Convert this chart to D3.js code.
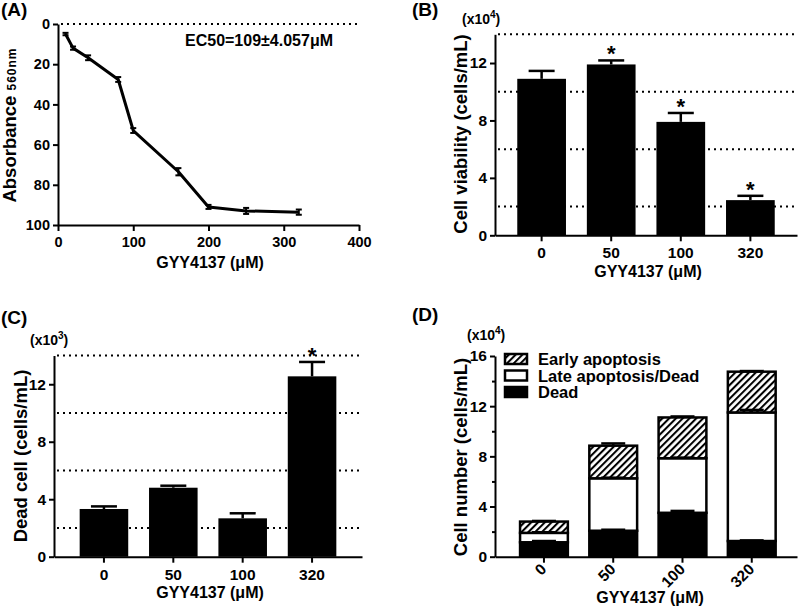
<!DOCTYPE html>
<html><head><meta charset="utf-8">
<script src="https://cdn.jsdelivr.net/npm/d3@7"></script>
<style>
body{margin:0;background:#fff}
svg text{font-family:"Liberation Sans",Arial,sans-serif;font-weight:bold;fill:#000}
</style>
</head><body>
<svg id="c" width="800" height="613"></svg>
<script>
// ---- Data ----
const doseA = [10, 20, 40, 80, 100, 160, 200, 250, 320];
const absA = [5, 12, 16.8, 27.6, 53, 73.5, 91, 93, 93.6];
const absErrA = [0.6, 0.8, 1.2, 1.2, 1.2, 1.8, 1.0, 1.5, 1.3];
const xTicksA = [0, 100, 200, 300, 400];
const yTicksA = [0, 20, 40, 60, 80, 100];

const categories = ["0", "50", "100", "320"];

const viability = [10.9, 11.9, 7.9, 2.45];
const viabilityErr = [0.55, 0.28, 0.62, 0.3];
const viabilitySig = [false, true, true, true];

const deadCell = [3.32, 4.8, 2.67, 12.55];
const deadCellErr = [0.18, 0.14, 0.35, 1.0];
const deadCellSig = [false, false, false, true];

const deadD = [1.15, 2.07, 3.5, 1.25];
const lateD = [0.75, 4.18, 4.35, 10.25];
const earlyD = [0.9, 2.6, 3.25, 3.25];
const deadDErr = [0.1, 0.08, 0.15, 0.05];
const lateDErr = [0.05, 0.05, 0.05, 0.2];
const earlyDErr = [0.05, 0.18, 0.08, 0.05];
const legendD = ["Early apoptosis", "Late apoptosis/Dead", "Dead"];

const yTicksBC = [0, 4, 8, 12];
const gridBC = [2, 6, 10, 14];
const yTicksD = [0, 4, 8, 12, 16];
const minorD = [2, 6, 10, 14];

// ---- Helpers ----
const svg = d3.select("#c");
const defs = svg.append("defs");
defs.append("pattern").attr("id", "hatch").attr("patternUnits", "userSpaceOnUse")
  .attr("width", 4.8).attr("height", 4.8).attr("patternTransform", "rotate(45)")
  .call(p => {
    p.append("rect").attr("width", 4.8).attr("height", 4.8).attr("fill", "#fff");
    p.append("line").attr("x1", 1).attr("y1", 0).attr("x2", 1).attr("y2", 4.8)
      .attr("stroke", "#000").attr("stroke-width", 2.1);
  });

function styleAxis(g, fs) {
  g.attr("font-size", fs).attr("font-family", null);
  g.selectAll("path,line").attr("stroke", "#000").attr("stroke-width", 2);
  return g;
}
function label(x, y, t, fs, anchor) {
  return svg.append("text").attr("x", x).attr("y", y).attr("font-size", fs)
    .attr("text-anchor", anchor || "start").text(t);
}
function ylabel(x, y, t, fs) {
  return svg.append("text").attr("transform", `translate(${x},${y}) rotate(-90)`)
    .attr("font-size", fs).attr("text-anchor", "middle").text(t);
}
function mult(x, y, exp) {
  const t = svg.append("text").attr("x", x).attr("y", y).attr("font-size", 14);
  t.append("tspan").text("(x10");
  t.append("tspan").attr("font-size", 10).attr("dy", -6).text(exp);
  t.append("tspan").attr("dy", 6).text(")");
}
function dotted(x1, x2, y) {
  svg.append("line").attr("x1", x1).attr("x2", x2).attr("y1", y).attr("y2", y)
    .attr("stroke", "#000").attr("stroke-width", 2).attr("stroke-dasharray", "2,4");
}
function errBar(cx, y0, y1, capW) {
  const g = svg.append("g").attr("stroke", "#000");
  g.append("line").attr("x1", cx).attr("x2", cx).attr("y1", y0).attr("y2", y1).attr("stroke-width", 2.5);
  g.append("line").attr("x1", cx - capW / 2).attr("x2", cx + capW / 2).attr("y1", y1).attr("y2", y1).attr("stroke-width", 2.5);
}

// ---- Panel A ----
(function () {
  const x = d3.scaleLinear().domain([0, 400]).range([58, 359]);
  const y = d3.scaleLinear().domain([0, 100]).range([24, 225]);
  dotted(61, 359, y(0));
  styleAxis(svg.append("g").attr("transform", `translate(0,${y(100)})`)
    .call(d3.axisBottom(x).tickValues(xTicksA).tickSize(6).tickPadding(6).tickSizeOuter(0)), 14.5);
  styleAxis(svg.append("g").attr("transform", `translate(${x(0)},0)`)
    .call(d3.axisLeft(y).tickValues(yTicksA).tickSize(5).tickPadding(3).tickSizeOuter(0)), 14.5);
  const pts = doseA.map((d, i) => [x(d), y(absA[i])]);
  svg.append("path").attr("d", d3.line()(pts)).attr("fill", "none")
    .attr("stroke", "#000").attr("stroke-width", 3).attr("stroke-linejoin", "round");
  doseA.forEach((d, i) => {
    const g = svg.append("g").attr("stroke", "#000").attr("stroke-width", 2);
    const a = y(absA[i] - absErrA[i]), b = y(absA[i] + absErrA[i]);
    g.append("line").attr("x1", x(d)).attr("x2", x(d)).attr("y1", a).attr("y2", b);
    g.append("line").attr("x1", x(d) - 3).attr("x2", x(d) + 3).attr("y1", a).attr("y2", a);
    g.append("line").attr("x1", x(d) - 3).attr("x2", x(d) + 3).attr("y1", b).attr("y2", b);
  });
  label(185, 46, "EC50=109±4.057μM", 16);
  const t = svg.append("text").attr("transform", `translate(16,125) rotate(-90)`)
    .attr("text-anchor", "middle").attr("font-size", 18.5);
  t.append("tspan").text("Absorbance ");
  t.append("tspan").attr("font-size", 12).attr("letter-spacing", 1).text("560nm");
  label(210, 268, "GYY4137 (μM)", 16, "middle");
  label(1, 16, "(A)", 19);
})();

// ---- Bar panels B and C ----
function barPanel(o) {
  const x = d3.scaleBand().domain(categories).range([o.x0, o.x1]).paddingInner(0.3).paddingOuter(o.po);
  const y = d3.scaleLinear().domain([0, 14]).range([o.yb, o.yt]);
  gridBC.forEach(v => dotted(o.x0 + 3, o.x1, y(v)));
  categories.forEach((c, i) => {
    const cx = x(c) + x.bandwidth() / 2;
    errBar(cx, y(o.vals[i]), y(o.vals[i] + o.errs[i]), 26);
  });
  svg.append("g").selectAll("rect").data(categories).join("rect")
    .attr("x", c => x(c)).attr("width", x.bandwidth())
    .attr("y", (c, i) => y(o.vals[i])).attr("height", (c, i) => y(0) - y(o.vals[i]))
    .attr("fill", "#000");
  categories.forEach((c, i) => {
    if (o.sig[i]) label(x(c) + x.bandwidth() / 2, y(o.vals[i] + o.errs[i]) + 1, "*", 22, "middle");
  });
  styleAxis(svg.append("g").attr("transform", `translate(0,${o.yb})`)
    .call(d3.axisBottom(x).tickSize(6).tickPadding(6).tickSizeOuter(0)), 15.5);
  styleAxis(svg.append("g").attr("transform", `translate(${o.x0},0)`)
    .call(d3.axisLeft(y).tickValues(yTicksBC).tickSize(5).tickPadding(3).tickSizeOuter(0)), 15.5);
}
barPanel({x0: 495, x1: 797, yb: 235.3, yt: 34.3, po: 0.32, vals: viability, errs: viabilityErr, sig: viabilitySig});
ylabel(467, 134, "Cell viability (cells/mL)", 18.5);
label(648, 277, "GYY4137 (μM)", 16, "middle");
label(412, 16, "(B)", 19);
mult(462, 24, "4");

barPanel({x0: 54, x1: 362, yb: 556.7, yt: 355.5, po: 0.37, vals: deadCell, errs: deadCellErr, sig: deadCellSig});
ylabel(27, 456, "Dead cell (cells/mL)", 18.5);
label(210, 598, "GYY4137 (μM)", 16, "middle");
label(1, 324, "(C)", 19);
mult(30, 345, "3");

// ---- Panel D ----
(function () {
  const x = d3.scaleBand().domain(categories).range([495, 797]).paddingInner(0.31).paddingOuter(0.335).align(0.54);
  const y = d3.scaleLinear().domain([0, 16]).range([556.7, 356]);
  const bw = x.bandwidth();
  const segs = [
    {vals: deadD, errs: deadDErr, fill: "#000"},
    {vals: lateD, errs: lateDErr, fill: "#fff"},
    {vals: earlyD, errs: earlyDErr, fill: "url(#hatch)"}
  ];
  categories.forEach((c, i) => {
    let base = 0;
    segs.forEach(s => {
      const top = base + s.vals[i];
      svg.append("rect").attr("x", x(c)).attr("width", bw)
        .attr("y", y(top)).attr("height", y(base) - y(top))
        .attr("fill", s.fill).attr("stroke", "#000").attr("stroke-width", 2.5);
      base = top;
    });
    base = 0;
    segs.forEach(s => {
      const top = base + s.vals[i];
      errBar(x(c) + bw / 2, y(top), y(top + s.errs[i]), 24);
      base = top;
    });
  });
  const ax = styleAxis(svg.append("g").attr("transform", `translate(0,${y(0)})`)
    .call(d3.axisBottom(x).tickSize(6).tickPadding(7).tickSizeOuter(0)), 15.5);
  ax.selectAll("text").attr("text-anchor", "end").attr("dy", "0.35em")
    .attr("transform", "translate(-6,4) rotate(-45)").attr("y", 8).attr("x", 0);
  styleAxis(svg.append("g").attr("transform", `translate(495,0)`)
    .call(d3.axisLeft(y).tickValues(yTicksD).tickSize(5).tickPadding(3).tickSizeOuter(0)), 15.5);
  styleAxis(svg.append("g").attr("transform", `translate(495,0)`)
    .call(d3.axisLeft(y).tickValues(minorD).tickSize(3).tickFormat("").tickSizeOuter(0)), 15.5)
    .select(".domain").remove();
  const fills = ["url(#hatch)", "#fff", "#000"];
  legendD.forEach((t, i) => {
    const cy = 359 + i * 16.5;
    svg.append("rect").attr("x", 505).attr("y", cy - 5).attr("width", 22).attr("height", 10)
      .attr("fill", fills[i]).attr("stroke", "#000").attr("stroke-width", 2.5);
    label(538, cy + 6, t, 16.5);
  });
  ylabel(467, 457, "Cell number (cells/mL)", 18.5);
  label(650, 603, "GYY4137 (μM)", 16, "middle");
  label(412, 321, "(D)", 19);
  mult(467, 340, "4");
})();
</script>
</body></html>
